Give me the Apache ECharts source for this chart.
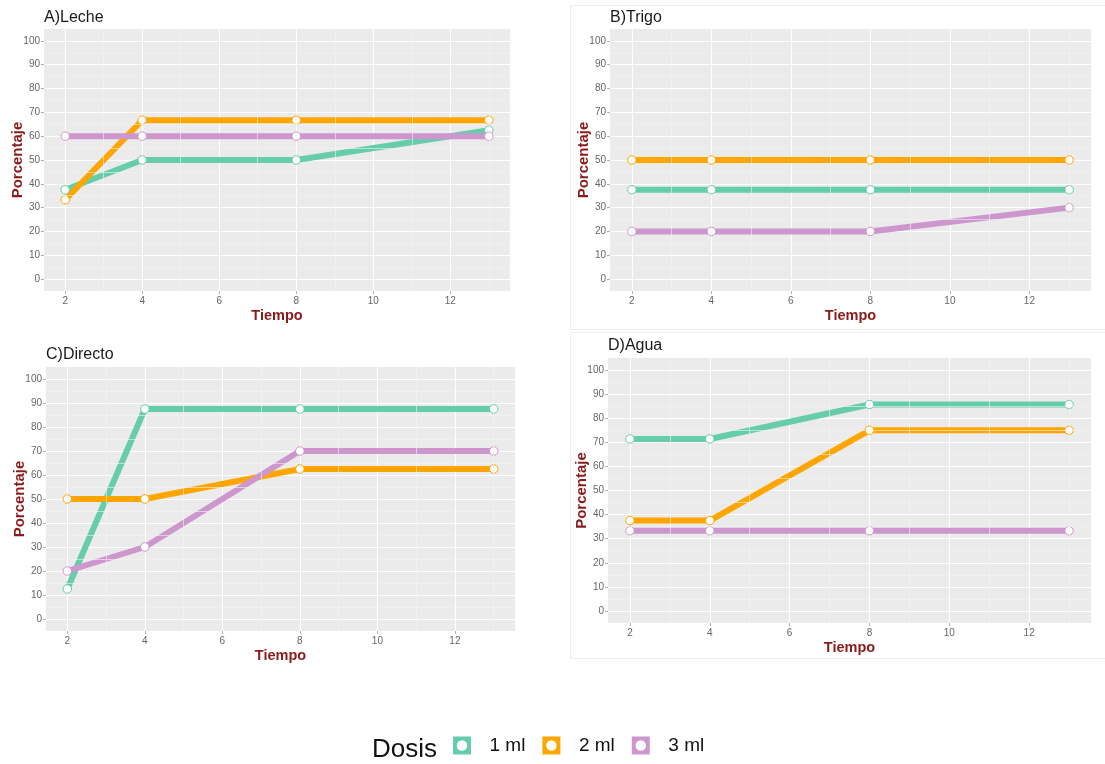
<!DOCTYPE html>
<html>
<head>
<meta charset="utf-8">
<script src="https://cdn.jsdelivr.net/npm/echarts@6/dist/echarts.min.js"></script>
<style>
  html, body { margin: 0; padding: 0; background: #ffffff; }
  #chart { width: 1105px; height: 764px; }
</style>
</head>
<body>
<div id="chart"></div>
<script>
// Sampling times (x) and dose groups
const tiempo = [2, 4, 8, 13];
const dosis = ['1 ml', '2 ml', '3 ml'];
const titulos = ['A)Leche', 'B)Trigo', 'C)Directo', 'D)Agua'];

// Percentage per dose, one array per panel and dose
const leche1 = [37.5, 50, 50, 62.5];
const leche2 = [33.3, 66.7, 66.7, 66.7];
const leche3 = [60, 60, 60, 60];

const trigo1 = [37.5, 37.5, 37.5, 37.5];
const trigo2 = [50, 50, 50, 50];
const trigo3 = [20, 20, 20, 30];

const directo1 = [12.5, 87.5, 87.5, 87.5];
const directo2 = [50, 50, 62.5, 62.5];
const directo3 = [20, 30, 70, 70];

const agua1 = [71.4, 71.4, 85.7, 85.7];
const agua2 = [37.5, 37.5, 75, 75];
const agua3 = [33.3, 33.3, 33.3, 33.3];

// Axis ticks and the minor grid between them
const xTicks = [2, 4, 6, 8, 10, 12];
const yTicks = [0, 10, 20, 30, 40, 50, 60, 70, 80, 90, 100];
const xMinor = [3, 5, 7, 9, 11, 13];
const yMinor = [5, 15, 25, 35, 45, 55, 65, 75, 85, 95];

const paneles = [
  [leche1, leche2, leche3],
  [trigo1, trigo2, trigo3],
  [directo1, directo2, directo3],
  [agua1, agua2, agua3]
];

const colores = ['#66CDAA', '#FFA500', '#CD96CD'];
const FONT = "'Liberation Sans', Arial, sans-serif";
const ROJO = '#8B1A1A';

const gridBoxes = [
  { left: 44, top: 29, width: 466, height: 262 },
  { left: 610, top: 29, width: 481, height: 262 },
  { left: 46, top: 367, width: 469, height: 264 },
  { left: 608, top: 358, width: 483, height: 265 }
];
const titlePos = [
  { left: 44, top: 10 },
  { left: 610, top: 10 },
  { left: 46, top: 347 },
  { left: 608, top: 338 }
];

const grid = [], xAxis = [], yAxis = [], series = [], title = [];

gridBoxes.forEach((g, i) => {
  grid.push(Object.assign({
    show: true, backgroundColor: '#EBEBEB', borderWidth: 0, containLabel: false
  }, g));

  title.push({
    text: titulos[i], left: titlePos[i].left, top: titlePos[i].top, padding: 0,
    textStyle: { fontFamily: FONT, fontSize: 16, fontWeight: 'normal', color: '#1A1A1A' }
  });

  xAxis.push({
    type: 'value', gridIndex: i, min: 1.45, max: 13.55, splitNumber: 6,
    name: 'Tiempo', nameLocation: 'middle', nameGap: 17,
    nameTextStyle: { fontFamily: FONT, fontSize: 14.5, fontWeight: 'bold', color: ROJO, verticalAlign: 'top' },
    axisLine: { show: false, onZero: false },
    axisTick: { show: true, length: 3, customValues: xTicks, lineStyle: { color: '#B0B0B0', width: 1 } },
    axisLabel: {
      customValues: xTicks, margin: 5,
      formatter: v => (xTicks.indexOf(v) >= 0 ? String(v) : ''),
      fontFamily: FONT, fontSize: 10, color: '#666666'
    },
    splitLine: { show: true, lineStyle: { color: '#FFFFFF', width: 1.1 } }
  });

  yAxis.push({
    type: 'value', gridIndex: i, min: -5, max: 105, splitNumber: 11,
    name: 'Porcentaje', nameLocation: 'middle', nameGap: 19, nameRotate: 90,
    nameMoveOverlap: false,
    nameTextStyle: { fontFamily: FONT, fontSize: 15, fontWeight: 'bold', color: ROJO },
    axisLine: { show: false, onZero: false },
    axisTick: { show: true, length: 3, customValues: yTicks, lineStyle: { color: '#B0B0B0', width: 1 } },
    axisLabel: {
      customValues: yTicks, margin: 4,
      formatter: v => (yTicks.indexOf(v) >= 0 ? String(v) : ''),
      fontFamily: FONT, fontSize: 10, color: '#666666'
    },
    splitLine: { show: true, lineStyle: { color: '#FFFFFF', width: 1.1 } }
  });

  // Minor grid lines
  series.push({
    type: 'line', xAxisIndex: i, yAxisIndex: i, data: [], z: 1, silent: true,
    markLine: {
      silent: true, symbol: ['none', 'none'], label: { show: false },
      lineStyle: { color: '#F4F4F4', width: 0.6, type: 'solid' },
      emphasis: { disabled: true },
      animation: false,
      data: xMinor.map(v => ({ xAxis: v })).concat(yMinor.map(v => ({ yAxis: v })))
    }
  });

  // Lines, then points on top
  paneles[i].forEach((vals, k) => {
    series.push({
      name: dosis[k], type: 'line', xAxisIndex: i, yAxisIndex: i, z: 2,
      data: tiempo.map((t, j) => [t, vals[j]]),
      showSymbol: false, symbol: 'none',
      lineStyle: { color: colores[k], width: 6, cap: 'butt', join: 'round' },
      itemStyle: { color: colores[k] },
      emphasis: { disabled: true }, silent: true, animation: false
    });
  });
  paneles[i].forEach((vals, k) => {
    series.push({
      name: dosis[k], type: 'scatter', xAxisIndex: i, yAxisIndex: i, z: 3,
      data: tiempo.map((t, j) => [t, vals[j]]),
      symbol: 'circle', symbolSize: 8.5,
      itemStyle: { color: '#FFFFFF', borderColor: colores[k], borderWidth: 1, opacity: 1 },
      emphasis: { disabled: true }, silent: true, animation: false
    });
  });
});

// Legend title
title.push({
  text: 'Dosis', left: 372, top: 737, padding: 0,
  textStyle: { fontFamily: FONT, fontSize: 26, fontWeight: 'normal', color: '#111111' }
});

// Key: coloured square with a white disc
const keyIcon = 'path://M0,0H20V20H0Z M10,4.2A5.8,5.8 0 1,0 10,15.8A5.8,5.8 0 1,0 10,4.2Z';

const option = {
  animation: false,
  backgroundColor: '#FFFFFF',
  title: title,
  grid: grid,
  xAxis: xAxis,
  yAxis: yAxis,
  legend: {
    left: 453, top: 736, padding: 0, orient: 'horizontal',
    icon: keyIcon, itemWidth: 19, itemHeight: 18, itemGap: 17,
    selectedMode: false,
    textStyle: { fontFamily: FONT, fontSize: 19, color: '#111111', padding: [0, 0, 0, 13] },
    data: dosis.map((d, k) => ({ name: d, itemStyle: { color: colores[k], borderWidth: 0 } }))
  },
  graphic: [
    { type: 'rect', silent: true, z: -10, shape: { x: 570.5, y: 5.5, width: 545, height: 324 },
      style: { fill: 'none', stroke: '#EEEEEE', lineWidth: 1 } },
    { type: 'rect', silent: true, z: -10, shape: { x: 570.5, y: 332.5, width: 545, height: 326 },
      style: { fill: 'none', stroke: '#EEEEEE', lineWidth: 1 } }
  ],
  series: series
};

const chart = echarts.init(document.getElementById('chart'), null, { renderer: 'canvas' });
chart.setOption(option);
</script>
</body>
</html>
